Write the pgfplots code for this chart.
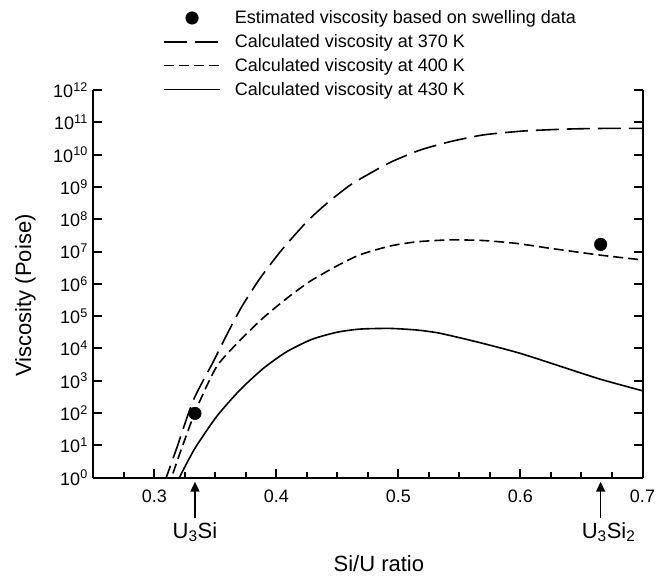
\documentclass[border=0pt]{standalone}
\usepackage{fontspec}
\setmainfont{Liberation Sans}
\usepackage{pgfplots}
\pgfplotsset{compat=1.18}
\usetikzlibrary{arrows.meta}
\pgfplotsset{
  linelegend/.style={legend image code/.code={\draw[##1] (0pt,0pt) -- (56pt,0pt);}},
  dotlegend/.style={legend image code/.code={\path (0pt,0pt) (56pt,0pt); \draw[##1] plot coordinates {(28pt,0pt)};}},
}

\begin{document}
\begin{tikzpicture}
\useasboundingbox (-93.3pt,-99.3pt) rectangle (573.7pt,477.7pt);
\begin{axis}[
  at={(0pt,0pt)}, anchor=south west,
  scale only axis, width=549.2pt, height=387.7pt,
  xmin=0.25, xmax=0.7, ymode=log, ymin=1, ymax=1e12,
  axis x line*=bottom,
  x axis line style={-},
  axis line style={line width=2pt},
  tick style={line width=2pt, black},
  tick align=inside,
  major tick length=9pt, minor tick length=5.4pt,
  xtick={0.3,0.4,0.5,0.6,0.7},
  minor xtick={0.25,0.275,0.325,0.35,0.375,0.425,0.45,0.475,0.525,0.55,0.575,0.625,0.65,0.675},
  ytick={1,10,100,1e3,1e4,1e5,1e6,1e7,1e8,1e9,1e10,1e11,1e12},
  yticklabels={10\textsuperscript{0},10\textsuperscript{1},10\textsuperscript{2},10\textsuperscript{3},10\textsuperscript{4},10\textsuperscript{5},10\textsuperscript{6},10\textsuperscript{7},10\textsuperscript{8},10\textsuperscript{9},10\textsuperscript{10},10\textsuperscript{11},10\textsuperscript{12}},
  yminorticks=false,
  /pgf/number format/assume math mode=true,
  tick label style={font=\fontsize{18}{21}\selectfont},
  xticklabel style={yshift=-9pt},
  yticklabel style={xshift=-2pt},
  xlabel={Si/U ratio},
  xlabel style={at={(axis description cs:0.52,0)}, anchor=base, yshift=-94pt, font=\fontsize{22}{26}\selectfont},
  ylabel={Viscosity (Poise)},
  ylabel style={at={(axis description cs:-0.1134,0.47)}, anchor=base, font=\fontsize{22}{26}\selectfont},
  legend style={at={(axis description cs:0.127,1)}, anchor=south west, draw=none, fill=none, inner sep=0pt,
    font=\fontsize{18}{21}\selectfont, row sep=5.3pt, column sep=12pt, yshift=-9pt},
  legend cell align=left,
  linelegend,
]
\addplot[only marks, mark=*, mark size=6.3pt, black, dotlegend]
  coordinates {(0.3333,98) (0.6657,1.66e7)};
\addlegendentry{Estimated viscosity based on swelling data}

\addplot[black, line width=1.6pt, dash pattern=on 23pt off 8pt, smooth, tension=0.4] coordinates {
(0.307,0.501) (0.310,1.07) (0.3183,8.13) (0.332,251) (0.3483,3890) (0.3593,26300)
(0.3716,195000) (0.3866,1.48e6) (0.4044,1.12e7) (0.4249,8.32e7) (0.4413,3.09e8)
(0.4602,1.12e9) (0.4767,2.63e9) (0.4945,6.03e9) (0.5177,1.38e10) (0.5423,2.51e10)
(0.5696,4.07e10) (0.6023,5.37e10) (0.6379,6.17e10) (0.6679,6.46e10) (0.70,6.46e10)};
\addlegendentry{Calculated viscosity at 370 K}

\addplot[black, line width=1.6pt, dash pattern=on 10pt off 5pt, smooth, tension=0.4] coordinates {
(0.311,0.501) (0.3143,1.07) (0.3224,8.13) (0.3347,141) (0.3511,2750) (0.3702,17800)
(0.3893,89100) (0.4085,355000) (0.4276,1.20e6) (0.4494,3.55e6) (0.4685,7.94e6)
(0.4931,1.48e7) (0.515,2.00e7) (0.5423,2.29e7) (0.5696,2.19e7) (0.597,1.78e7)
(0.6242,1.26e7) (0.6652,7.76e6) (0.70,5.50e6)};
\addlegendentry{Calculated viscosity at 400 K}

\addplot[black, line width=1.6pt, smooth, tension=0.4] coordinates {
(0.318,0.501) (0.3205,1.0) (0.3333,8.13) (0.351,77.6) (0.370,513) (0.3895,2450)
(0.4085,7940) (0.429,19100) (0.4494,31600) (0.4685,39800) (0.4931,41700)
(0.515,37200) (0.5341,29500) (0.5669,15100) (0.5997,7080) (0.6325,2820)
(0.6653,1122) (0.70,490)};
\addlegendentry{Calculated viscosity at 430 K}

\coordinate (a1) at (axis cs:0.3333,1);
\coordinate (a2) at (axis cs:0.6657,1);
\end{axis}
\draw[line width=1.5pt, -{Triangle[length=10pt,width=9pt]}] ([yshift=-40.3pt]a1) -- ([yshift=-4pt]a1);
\draw[line width=1.5pt, -{Triangle[length=10pt,width=9pt]}] ([yshift=-40.3pt]a2) -- ([yshift=-4pt]a2);
\node[anchor=base, font=\fontsize{22}{26}\selectfont, inner sep=0pt] at ([yshift=-60.6pt]a1) {U\textsubscript{3}Si};
\node[anchor=base, font=\fontsize{22}{26}\selectfont, inner sep=0pt] at ([xshift=8pt,yshift=-60.6pt]a2) {U\textsubscript{3}Si\textsubscript{2}};
\end{tikzpicture}
\end{document}
